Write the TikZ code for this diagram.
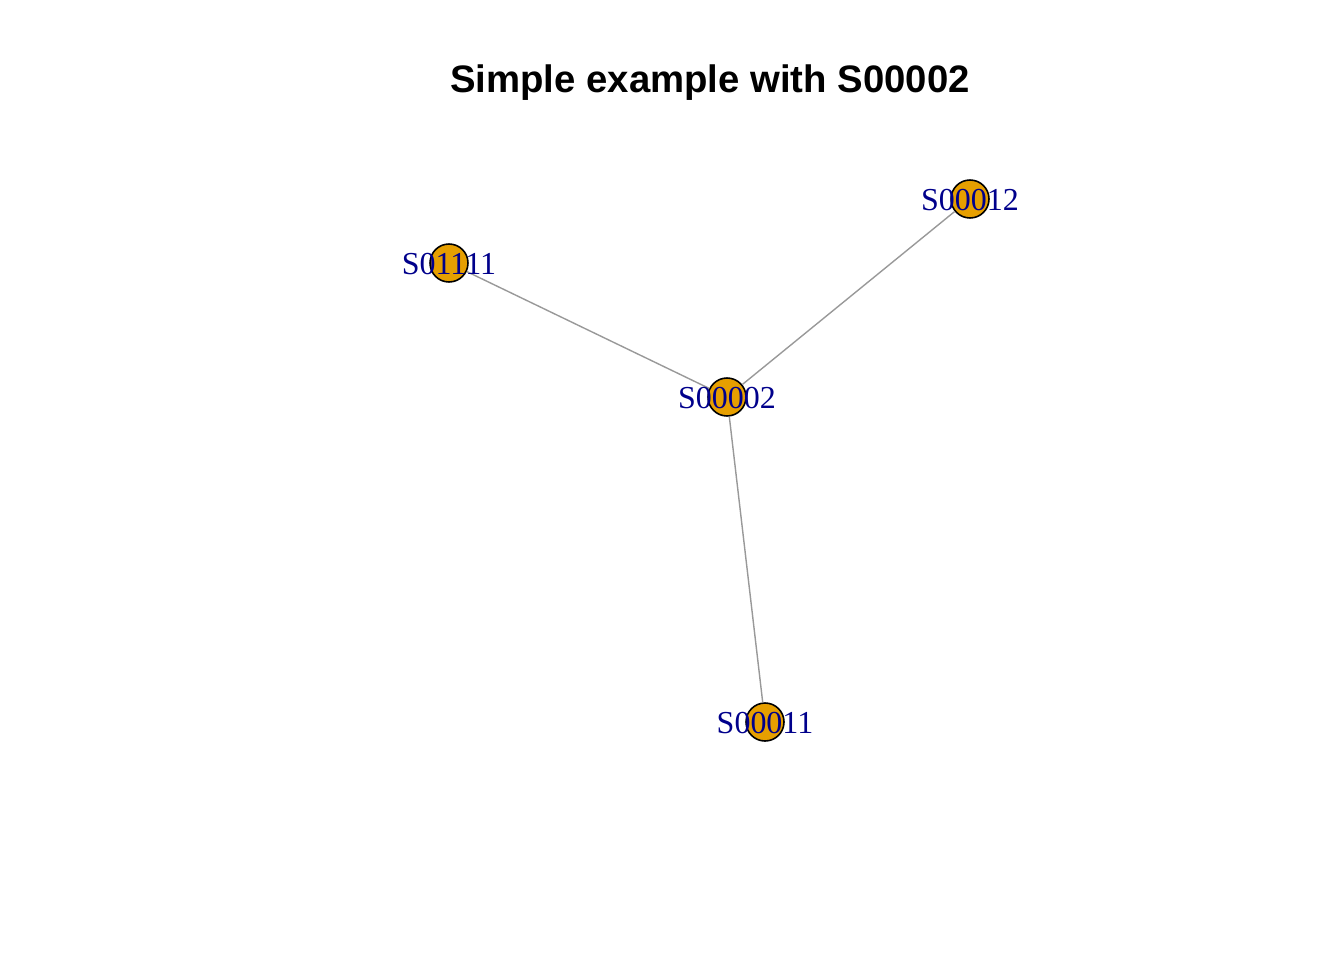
\documentclass[tikz,border=0pt]{standalone}
\usepackage{fontspec}
\setmainfont{Liberation Serif}
\newfontfamily\titlefont{Liberation Sans}
\definecolor{vertexfill}{HTML}{E69F00}
\definecolor{labelblue}{HTML}{00008B}
\definecolor{edgegrey}{HTML}{999999}

\begin{document}
\begin{tikzpicture}[x=0.02cm,y=-0.02cm,
  vertex/.style={circle,draw=black,line width=0.9pt,fill=vertexfill,minimum size=0.76cm,inner sep=0pt},
  vlabel/.style={text=labelblue,font=\fontsize{18.2}{18}\selectfont,inner sep=0pt},
  link/.style={edgegrey,line width=0.8pt}]
\useasboundingbox (0,0) rectangle (1344,960);

\node (title) at (710,83) {\titlefont\bfseries\fontsize{21.8}{24}\selectfont Simple example with S00002};

\node[vertex] (S00002) at (727,397) {};
\node[vertex] (S01111) at (449,263) {};
\node[vertex] (S00012) at (970,199) {};
\node[vertex] (S00011) at (765,722) {};

\draw[link] (S00002) -- (S01111);
\draw[link] (S00002) -- (S00012);
\draw[link] (S00002) -- (S00011);

\node[vlabel] (l2) at ([yshift=-0.02cm]S00002) {S00002};
\node[vlabel] (l1111) at ([yshift=-0.02cm]S01111) {S01111};
\node[vlabel] (l12) at ([yshift=-0.02cm]S00012) {S00012};
\node[vlabel] (l11) at ([yshift=-0.02cm]S00011) {S00011};
\end{tikzpicture}
\end{document}
